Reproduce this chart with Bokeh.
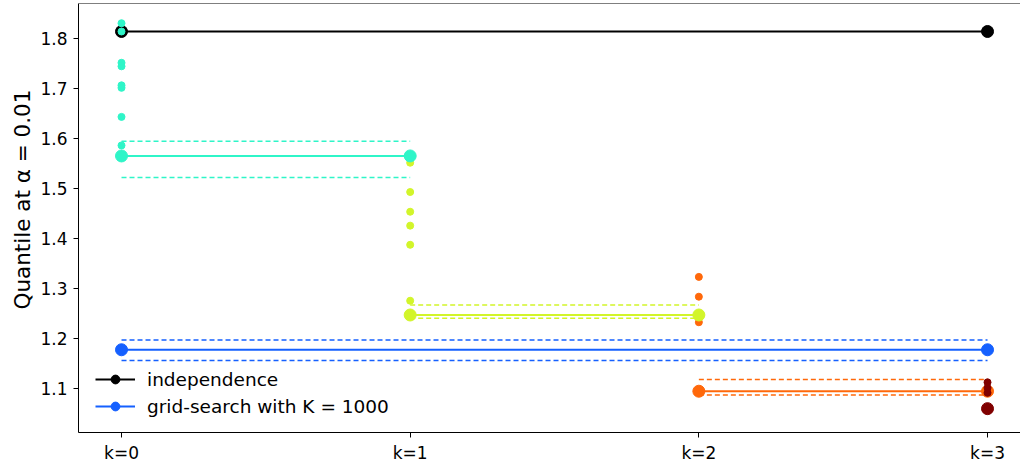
from bokeh.plotting import figure
from bokeh.models import FixedTicker, Span, Legend, LegendItem, Title
from bokeh.embed import file_html
from bokeh.resources import INLINE

# ---------------- data ----------------
ks = [0, 1, 2, 3]
tick_labels = ["k=0", "k=1", "k=2", "k=3"]
y_ticks = [1.1, 1.2, 1.3, 1.4, 1.5, 1.6, 1.7, 1.8]

independence = 1.8135
grid_mean = 1.178
grid_upper = 1.1975
grid_lower = 1.1565

step_means = [1.565, 1.2474, 1.0952, 1.0604]
step_upper = [1.5944, 1.2672, 1.1185]
step_lower = [1.5218, 1.2410, 1.0875]

samples_k0 = [1.830, 1.8135, 1.751, 1.744, 1.706, 1.701, 1.643, 1.586]
samples_k1 = [1.5515, 1.493, 1.4536, 1.4258, 1.3876, 1.2759]
samples_k2 = [1.3235, 1.2839, 1.2329]
samples_k3 = [1.113, 1.102, 1.092]
samples = [samples_k0, samples_k1, samples_k2, samples_k3]

y_label = "Quantile at α = 0.01"

step_colors = ["#2ff5c8", "#d2f52a", "#ff680a", "#800000"]
black = "#000000"
blue = "#1560ff"
FONT = "DejaVu Sans"

Y_TOP = 1.8694
Y_BOT = 1.01277
W, H = 1020, 465
X_END = -0.149 + (W - 78) / 288.67

# ---------------- figure ----------------
p = figure(width=W, height=H, output_backend="svg", toolbar_location=None,
           x_range=(-0.149, X_END), y_range=(Y_BOT, Y_TOP),
           min_border_left=78, min_border_right=0, min_border_top=3,
           min_border_bottom=30)
p.outline_line_color = None
p.xgrid.visible = False
p.ygrid.visible = False
p.background_fill_color = "white"
p.border_fill_color = "white"

p.add_layout(Span(location=Y_TOP, dimension="width", line_color="black", line_width=1))

for ax in (p.xaxis[0], p.yaxis[0]):
    ax.axis_line_color = "black"
    ax.axis_line_width = 1
    ax.major_tick_line_color = "black"
    ax.major_tick_out = 5
    ax.major_tick_in = 0
    ax.minor_tick_line_color = None
    ax.major_label_text_font = FONT
    ax.major_label_text_font_size = "17px"
    ax.major_label_text_color = "black"

p.xaxis.ticker = FixedTicker(ticks=ks)
p.xaxis.major_label_overrides = {k: lab for k, lab in zip(ks, tick_labels)}
p.xaxis.major_label_standoff = 5

p.yaxis.ticker = FixedTicker(ticks=y_ticks)
p.yaxis.major_label_overrides = {t: f"{t:.1f}" for t in y_ticks}
p.yaxis.major_label_standoff = 6

# y-axis title as a side title, shifted up along the frame like the reference
ytitle = Title(text=y_label, align="left", offset=123, standoff=6,
               text_font=FONT, text_font_size="21.5px", text_font_style="normal",
               text_color="black")
p.add_layout(ytitle, "left")

BIG = 12
SMALL = 7
DASH = "5 3"
DW = 1.5

# independence
ind_line = p.line([ks[0], ks[-1]], [independence, independence], line_color=black, line_width=2)
ind_pts = p.scatter([ks[0], ks[-1]], [independence, independence], size=BIG,
                    fill_color=black, line_color=black)

# grid search
grid_line = p.line([ks[0], ks[-1]], [grid_mean, grid_mean], line_color=blue, line_width=2)
for v in (grid_upper, grid_lower):
    p.line([ks[0], ks[-1]], [v, v], line_color=blue, line_width=DW, line_dash=DASH)
grid_pts = p.scatter([ks[0], ks[-1]], [grid_mean, grid_mean], size=BIG,
                     fill_color=blue, line_color=blue)

# sample scatters (k = 0..2 below the step means)
for k in ks[:3]:
    p.scatter([k] * len(samples[k]), samples[k], size=SMALL,
              fill_color=step_colors[k], line_color=step_colors[k])

# step means with dashed bands
for k in ks[:3]:
    c = step_colors[k]
    xs = [k, k + 1]
    p.line(xs, [step_upper[k]] * 2, line_color=c, line_width=DW, line_dash=DASH)
    p.line(xs, [step_lower[k]] * 2, line_color=c, line_width=DW, line_dash=DASH)
    p.line(xs, [step_means[k]] * 2, line_color=c, line_width=2)
    p.scatter(xs, [step_means[k]] * 2, size=BIG, fill_color=c, line_color=c)

# last step
p.scatter([ks[3]] * len(samples_k3), samples_k3, size=SMALL,
          fill_color=step_colors[3], line_color=step_colors[3])
p.scatter([ks[3]], [step_means[3]], size=BIG, fill_color=step_colors[3], line_color=step_colors[3])

legend = Legend(items=[
    LegendItem(label="independence", renderers=[ind_line, ind_pts]),
    LegendItem(label="grid-search with K = 1000", renderers=[grid_line, grid_pts]),
], location=(17, 15))
legend.border_line_color = None
legend.background_fill_color = "white"
legend.background_fill_alpha = 0.8
legend.glyph_width = 40
legend.glyph_height = 22
legend.label_standoff = 12
legend.padding = 0
legend.margin = 0
legend.spacing = 5
legend.label_text_font = FONT
legend.label_text_font_size = "18.5px"
legend.label_text_color = "black"
p.add_layout(legend)

open("out.html", "w").write(file_html(p, INLINE))
